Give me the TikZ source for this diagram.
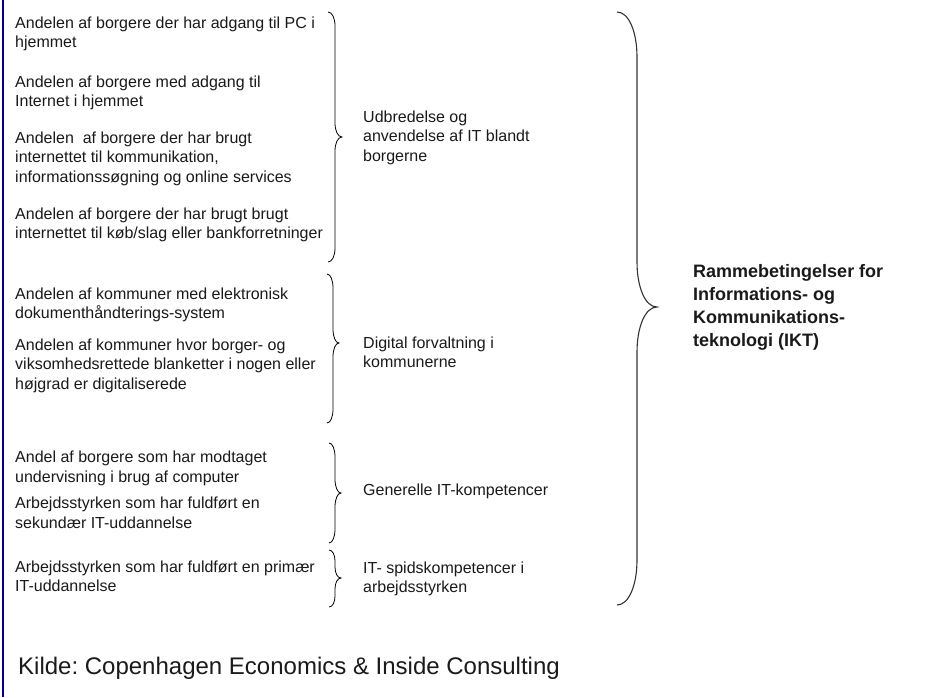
\documentclass[tikz,border=0pt]{standalone}
\usepackage{fontspec}
\setmainfont{Liberation Sans}
\definecolor{txt}{HTML}{1A1A1A}
\definecolor{navyline}{HTML}{00007A}
\definecolor{bigbrace}{HTML}{333333}
\newcommand\rbrc[8]{% x0 xm xt ytop ymid ybot r style
  \draw[#8] (#1,#4) .. controls ({#1+0.6*(#2-#1)},#4) and (#2,{#4+0.45*#7}) .. (#2,{#4+#7})
    -- (#2,{#5-#7}) .. controls (#2,{#5-0.45*#7}) and ({#3-0.6*(#3-#2)},#5) .. (#3,#5)
    .. controls ({#3-0.6*(#3-#2)},#5) and (#2,{#5+0.45*#7}) .. (#2,{#5+#7})
    -- (#2,{#6-#7}) .. controls (#2,{#6-0.45*#7}) and ({#1+0.6*(#2-#1)},#6) .. (#1,#6);}
\begin{document}
\frenchspacing
\begin{tikzpicture}[x=1pt,y=-1pt,
  item/.style={anchor=north west, align=left, inner sep=0pt, text=txt,
    font=\frenchspacing\fontsize{16}{19.5}\selectfont},
  head/.style={anchor=north west, align=left, inner sep=0pt, text=txt,
    font=\frenchspacing\bfseries\fontsize{18}{23}\selectfont},
  src/.style={anchor=base west, inner sep=0pt, text=txt,
    font=\frenchspacing\fontsize{24}{28}\selectfont},
  smallbrace/.style={draw=black, line width=0.8pt},
  largebrace/.style={draw=bigbrace, line width=1.1pt}]
\useasboundingbox (0,0) rectangle (944,697);
\fill[white] (0,0) rectangle (944,697);
\draw[navyline, line width=2.3pt] (3,0) -- (3,697);

% group 1
\node[item] (a1) at (15,16.5) {Andelen af borgere der har adgang til PC i\\hjemmet};
\node[item] (a2) at (15,75.3) {Andelen af borgere med adgang til\\Internet i hjemmet};
\node[item] (a3) at (15,131.3) {Andelen\ \ af borgere der har brugt\\internettet til kommunikation,\\informationssøgning og online services};
\node[item] (a4) at (15,207.3) {Andelen af borgere der har brugt brugt\\internettet til køb/slag eller bankforretninger};
% group 2
\node[item] (b1) at (15,287.5) {Andelen af kommuner med elektronisk\\dokumenthåndterings-system};
\node[item] (b2) at (15,338.3) {Andelen af kommuner hvor borger- og\\viksomhedsrettede blanketter i nogen eller\\højgrad er digitaliserede};
% group 3
\node[item] (c1) at (15,451) {Andel af borgere som har modtaget\\undervisning i brug af computer};
\node[item] (c2) at (15,497) {Arbejdsstyrken som har fuldført en\\sekundær IT-uddannelse};
% group 4
\node[item] (d1) at (15,560.3) {Arbejdsstyrken som har fuldført en primær\\IT-uddannelse};

% middle labels
\node[item] (ma) at (363,110.3) {Udbredelse og\\anvendelse af IT blandt\\borgerne};
\node[item] (mb) at (363,336.3) {Digital forvaltning i\\kommunerne};
\node[item] (mc) at (363,483.3) {Generelle IT-kompetencer};
\node[item] (md) at (363,561.3) {IT- spidskompetencer i\\arbejdsstyrken};

% main label
\node[head] (main) at (693,264.5) {Rammebetingelser for\\Informations- og\\Kommunikations-\\teknologi (IKT)};

% source
\node[src] (kilde) at (18,674) {Kilde: Copenhagen Economics \& Inside Consulting};

% braces
\rbrc{328}{335}{342}{12}{137}{262}{14}{smallbrace}
\rbrc{327}{333}{339}{274}{343}{423}{14}{smallbrace}
\rbrc{329}{335}{341}{443}{493}{543}{14}{smallbrace}
\rbrc{329}{335}{341}{550}{578}{607}{11}{smallbrace}
\rbrc{617}{637}{657}{12}{307}{605}{45}{largebrace}
\end{tikzpicture}
\end{document}
